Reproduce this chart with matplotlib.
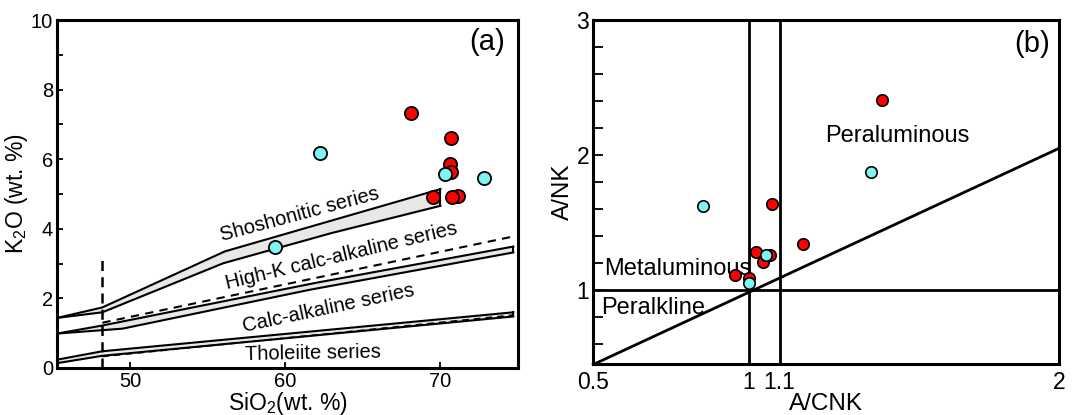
import numpy as np
import matplotlib
matplotlib.use("Agg")
import matplotlib.pyplot as plt
from matplotlib.ticker import MultipleLocator, FixedLocator

plt.rcParams['font.family'] = ['Liberation Sans', 'DejaVu Sans']
plt.rcParams['mathtext.fontset'] = 'custom'
plt.rcParams['mathtext.rm'] = 'Liberation Sans'
plt.rcParams['mathtext.it'] = 'Liberation Sans:italic'

# ---- panel (a): K2O vs SiO2 ----
# series boundary bands (upper / lower edges)
sho_up_x = [45.3, 48.2, 56.1, 70.0]
sho_up_y = [1.44, 1.74, 3.35, 5.14]
sho_lo_x = [45.3, 48.2, 56.0, 63.0, 70.0]
sho_lo_y = [1.44, 1.60, 3.01, 3.88, 4.66]

hk_up_x = [45.3, 48.2, 62.0, 74.7]
hk_up_y = [0.99, 1.22, 2.45, 3.49]
hk_lo_x = [45.3, 49.5, 61.6, 74.7]
hk_lo_y = [0.99, 1.13, 2.25, 3.32]
hk_dash_x = [48.2, 74.7]
hk_dash_y = [1.30, 3.78]

th_up_x = [45.3, 48.2, 74.7]
th_up_y = [0.24, 0.48, 1.60]
th_lo_x = [45.3, 48.2, 74.7]
th_lo_y = [0.14, 0.35, 1.48]
th_dash_x = [48.2, 74.7]
th_dash_y = [0.33, 1.52]

vdash_x = [48.2, 48.2]
vdash_y = [0.0, 3.1]

# samples
red_sio2 = [68.1, 70.65, 70.6, 70.65, 69.55, 71.15, 70.75]
red_k2o = [7.32, 6.62, 5.87, 5.62, 4.90, 4.95, 4.90]
cyan_sio2 = [62.26, 59.35, 70.32, 72.8]
cyan_k2o = [6.17, 3.49, 5.57, 5.45]

# ---- panel (b): A/NK vs A/CNK ----
red_acnk = [1.43, 1.075, 1.174, 1.025, 1.07, 1.046, 0.957, 1.0]
red_ank = [2.41, 1.64, 1.345, 1.28, 1.26, 1.21, 1.11, 1.09]
cyan_acnk = [0.855, 1.393, 1.057, 1.003]
cyan_ank = [1.62, 1.875, 1.26, 1.055]

diag_x = [0.5, 2.0]
diag_y = [0.45, 2.05]

RED = '#ff0000'
CYAN = '#80f4f4'
BAND = '#e8e8e8'


def band(ax, ux, uy, lx, ly, close_right=True):
    # shaded band between two polylines
    xs = np.union1d(ux, lx)
    yu = np.interp(xs, ux, uy)
    yl = np.interp(xs, lx, ly)
    ax.fill_between(xs, yl, yu, color=BAND, lw=0, zorder=1)
    ax.plot(ux, uy, color='black', lw=1.5, zorder=2)
    ax.plot(lx, ly, color='black', lw=1.5, zorder=2)
    if close_right:
        ax.plot([ux[-1], lx[-1]], [uy[-1], ly[-1]], color='black', lw=1.5, zorder=2)


fig = plt.figure(figsize=(10.74, 4.15), dpi=100)
ax1 = fig.add_axes([0.0534, 0.1133, 0.4289, 0.8385])
ax2 = fig.add_axes([0.5524, 0.1217, 0.4336, 0.8301])

band(ax1, sho_up_x, sho_up_y, sho_lo_x, sho_lo_y)
band(ax1, hk_up_x, hk_up_y, hk_lo_x, hk_lo_y)
band(ax1, th_up_x, th_up_y, th_lo_x, th_lo_y)
ax1.plot(hk_dash_x, hk_dash_y, color='black', lw=1.5, ls=(0, (4, 3)), zorder=2)
ax1.plot(th_dash_x, th_dash_y, color='black', lw=1.2, ls=(0, (4, 3)), zorder=2)
ax1.plot(vdash_x, vdash_y, color='black', lw=1.8, ls=(0, (4, 2.5)), zorder=2)

ax1.scatter(red_sio2, red_k2o, s=90, c=RED, edgecolors='black', linewidths=1.3, zorder=4)
ax1.scatter(cyan_sio2, cyan_k2o, s=90, c=CYAN, edgecolors='black', linewidths=1.3, zorder=5)

lab = dict(fontsize=14.5, ha='center', va='center', zorder=3)
ax1.text(60.9, 4.42, 'Shoshonitic series', rotation=15, **lab)
ax1.text(63.6, 3.22, 'High-K calc-alkaline series', rotation=13.5, **lab)
ax1.text(62.8, 1.72, 'Calc-alkaline series', rotation=12, **lab)
ax1.text(61.8, 0.42, 'Tholeiite series', rotation=1, **lab)
ax1.text(73.0, 9.37, '(a)', fontsize=21, ha='center', va='center')

ax1.set_xlim(45.3, 75)
ax1.set_ylim(0, 10)
ax1.xaxis.set_major_locator(FixedLocator([50, 60, 70]))
ax1.yaxis.set_major_locator(MultipleLocator(2))
ax1.yaxis.set_minor_locator(MultipleLocator(1))
ax1.tick_params(direction='in', length=4, width=1.3, labelsize=14.5, pad=3)
ax1.tick_params(which='minor', direction='in', length=4, width=1.3)
ax1.set_xlabel('SiO$_2$(wt. %)', fontsize=16.5, labelpad=-1)
ax1.set_ylabel('K$_2$O (wt. %)', fontsize=16.5, labelpad=1)

# panel (b)
ax2.axvline(1.0, color='black', lw=2, zorder=2)
ax2.axvline(1.1, color='black', lw=2, zorder=2)
ax2.axhline(1.0, color='black', lw=2, zorder=2)
ax2.plot(diag_x, diag_y, color='black', lw=2, zorder=2, clip_on=False)

ax2.scatter(red_acnk, red_ank, s=68, c=RED, edgecolors='black', linewidths=1.2, zorder=4)
ax2.scatter(cyan_acnk, cyan_ank, s=68, c=CYAN, edgecolors='black', linewidths=1.2, zorder=5)

ax2.text(1.479, 2.14, 'Peraluminous', fontsize=17, ha='center', va='center')
ax2.text(0.536, 1.16, 'Metaluminous', fontsize=17, ha='left', va='center', zorder=3)
ax2.text(0.525, 0.87, 'Peralkline', fontsize=17, ha='left', va='center', zorder=3)
ax2.text(1.912, 2.82, '(b)', fontsize=21, ha='center', va='center')

ax2.set_xlim(0.5, 2.0)
ax2.set_ylim(0.45, 3.0)
ax2.xaxis.set_major_locator(FixedLocator([0.5, 1.0, 1.1, 2.0]))
ax2.set_xticklabels(['0.5', '1', '1.1', '2'])
ax2.yaxis.set_major_locator(FixedLocator([1, 2, 3]))
ax2.yaxis.set_minor_locator(FixedLocator([0.6, 0.8, 1.2, 1.4, 1.6, 1.8, 2.2, 2.4, 2.6, 2.8]))
ax2.tick_params(axis='x', length=0, labelsize=16.5, pad=5)
ax2.tick_params(axis='y', direction='in', length=7, width=1.3, labelsize=16.5, pad=3)
ax2.tick_params(axis='y', which='minor', direction='in', length=7, width=1.3)
ax2.set_xlabel('A/CNK', fontsize=17.5, labelpad=-1)
ax2.set_ylabel('A/NK', fontsize=17.5, labelpad=2)

for ax in (ax1, ax2):
    for sp in ax.spines.values():
        sp.set_linewidth(2.2)

fig.savefig('out.png', dpi=100)
